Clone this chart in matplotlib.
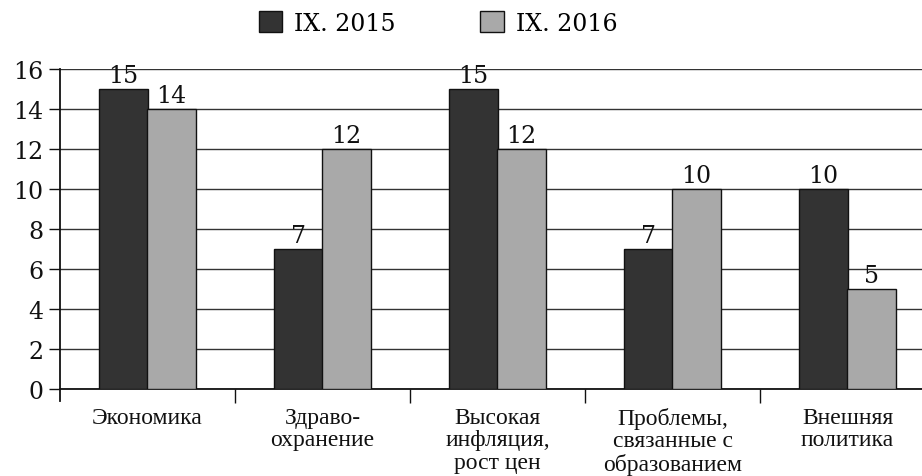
import matplotlib
matplotlib.use("Agg")
import matplotlib.pyplot as plt
import numpy as np

categories = ["Экономика", "Здраво-\nохранение", "Высокая\nинфляция,\nрост цен",
              "Проблемы,\nсвязанные с\nобразованием", "Внешняя\nполитика"]
series_names = ["IX. 2015", "IX. 2016"]
values_2015 = [15, 7, 15, 7, 10]
values_2016 = [14, 12, 12, 10, 5]
yticks = [0, 2, 4, 6, 8, 10, 12, 14, 16]

fig = plt.figure(figsize=(9.22, 4.77), dpi=100)
ax = fig.add_axes([60/922, 87/477, 875/922, 320/477])

x = np.arange(len(categories))
w = 0.275
off = 0.137
c1, c2 = "#333333", "#a9a9a9"
b1 = ax.bar(x - off, values_2015, w, color=c1, edgecolor="#111111", linewidth=1.0, zorder=3, label=series_names[0])
b2 = ax.bar(x + off, values_2016, w, color=c2, edgecolor="#111111", linewidth=1.0, zorder=3, label=series_names[1])

num_font = dict(family="DejaVu Serif", size=17)
for bars, vals in ((b1, values_2015), (b2, values_2016)):
    for r, v in zip(bars, vals):
        ax.text(r.get_x() + r.get_width()/2, v + 0.1, str(v), ha="center", va="bottom",
                fontdict=num_font, color="#111111", zorder=4)

ax.set_xlim(-0.5, len(categories) - 0.5)
ax.set_ylim(0, 16)
ax.set_yticks(yticks)
ax.set_yticklabels([str(t) for t in yticks], fontdict=num_font, color="#111111")
ax.yaxis.grid(True, color="#333333", linewidth=1.0, zorder=0)
ax.set_axisbelow(True)
for s in ("top", "right"):
    ax.spines[s].set_visible(False)
ax.spines["left"].set_color("#111111")
ax.spines["left"].set_linewidth(1.3)
ax.spines["left"].set_bounds(-0.6, 16)
ax.spines["bottom"].set_color("#111111")
ax.spines["bottom"].set_linewidth(1.3)
ax.tick_params(axis="y", length=8, width=1.0, color="#111111", pad=4)

ax.set_xticks(x)
ax.set_xticklabels(categories, fontdict=dict(family="Liberation Serif", size=17),
                   color="#111111", linespacing=1.08)
ax.tick_params(axis="x", length=0, pad=13)
ax.set_xticks(np.arange(len(categories)) + 0.5, minor=True)
ax.tick_params(axis="x", which="minor", length=10, width=1.0, color="#111111", direction="out")

leg = fig.legend(handles=[b1, b2], labels=series_names, loc="center",
                 bbox_to_anchor=(438/922, 1 - 24/477), ncol=2, frameon=False,
                 prop=dict(family="DejaVu Serif", size=17), handlelength=1.0,
                 handleheight=1.0, columnspacing=3.6, handletextpad=0.5)

fig.savefig("out.png", dpi=100)
